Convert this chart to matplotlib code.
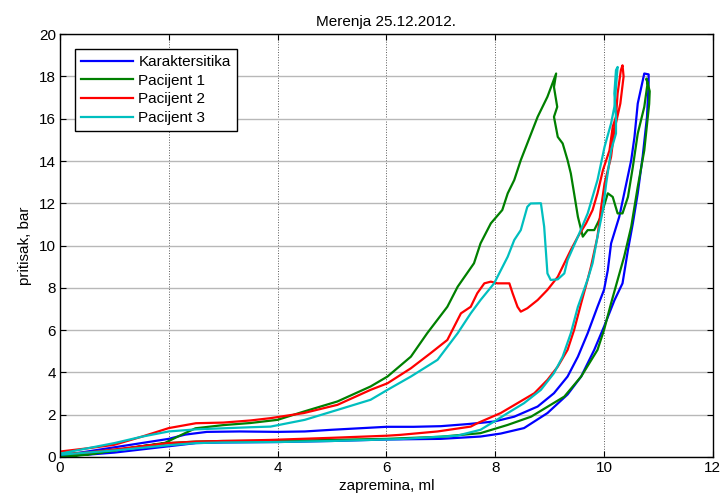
import matplotlib
matplotlib.use('Agg')
import matplotlib.pyplot as plt

plt.rcParams['font.family'] = ['Liberation Sans', 'DejaVu Sans']

# Karakteristika: punjenje pa praznjenje
kar_x = [0, 0.5, 1.0, 1.5, 2.0, 2.3, 2.7, 3.3, 4.0, 4.5, 5.0, 5.5, 6.0, 6.5, 7.0, 7.5, 7.98,
         8.35, 8.78, 9.08, 9.33, 9.52, 9.70, 9.88, 10.0, 10.07, 10.13, 10.28, 10.41, 10.50,
         10.56, 10.62, 10.74, 10.82,
         10.82, 10.79, 10.71, 10.62, 10.53, 10.44, 10.34, 10.19, 10.0, 9.82, 9.58, 9.33,
         8.96, 8.53, 8.1, 7.73, 7.0, 6.0, 5.0, 4.0, 3.0, 2.5, 2.0, 1.5, 1.0, 0.5, 0]
kar_y = [0.05, 0.25, 0.45, 0.65, 0.85, 1.05, 1.18, 1.2, 1.18, 1.2, 1.28, 1.35, 1.42, 1.42, 1.45,
         1.55, 1.67, 1.9, 2.38, 3.01, 3.8, 4.74, 5.85, 7.1, 7.9, 8.84, 10.1, 11.36, 12.94, 14.04,
         15.14, 16.72, 18.14, 18.1,
         17.67, 16.09, 14.2, 12.47, 11.05, 9.79, 8.21, 7.4, 6.16, 5.06, 3.8, 2.95,
         2.07, 1.36, 1.1, 0.96, 0.85, 0.82, 0.75, 0.7, 0.68, 0.65, 0.5, 0.35, 0.2, 0.1, 0.05]

# Pacijent 1
p1_x = [0, 0.5, 1.0, 1.5, 1.93, 2.2, 2.49, 3.0, 3.5, 4.0, 4.48, 5.1, 5.71, 6.02, 6.45, 6.75,
        7.12, 7.31, 7.61, 7.73, 7.92, 8.13, 8.23, 8.35, 8.47, 8.78, 8.96, 9.12, 9.08, 9.14,
        9.08, 9.15, 9.24, 9.33, 9.39, 9.45, 9.52, 9.61, 9.7, 9.82, 9.94, 10.07, 10.16, 10.25,
        10.34, 10.44, 10.53, 10.62, 10.74, 10.8, 10.78, 10.84,
        10.83, 10.74, 10.62, 10.5, 10.37, 10.25, 10.13, 10.0, 9.88, 9.58, 9.27, 8.66, 8.23,
        7.73, 7.0, 6.0, 5.0, 4.0, 3.0, 2.5, 2.0, 1.5, 1.0, 0.5, 0.2]
p1_y = [0.0, 0.1, 0.3, 0.5, 0.66, 1.0, 1.35, 1.5, 1.6, 1.75, 2.14, 2.62, 3.33, 3.8, 4.74, 5.85,
        7.1, 8.05, 9.16, 10.1, 11.05, 11.68, 12.47, 13.1, 14.04, 16.09, 17.04, 18.14, 17.5, 16.56,
        16.09, 15.14, 14.83, 14.04, 13.41, 12.47, 11.36, 10.42, 10.73, 10.73, 11.36, 12.47, 12.3,
        11.52, 11.52, 12.3, 13.72, 15.3, 16.56, 17.67, 17.9, 17.3,
        16.7, 14.5, 12.78, 10.89, 9.47, 8.37, 7.27, 6.0, 5.06, 3.8, 2.85, 1.9, 1.51,
        1.12, 0.95, 0.85, 0.8, 0.75, 0.75, 0.72, 0.65, 0.5, 0.3, 0.12, 0.05]

# Pacijent 2
p2_x = [0, 0.5, 1.0, 1.5, 2.0, 2.5, 3.0, 3.5, 3.87, 4.48, 5.1, 5.71, 6.02, 6.45, 6.81, 7.12,
        7.37, 7.55, 7.67, 7.8, 7.92, 8.04, 8.26, 8.32, 8.41, 8.47, 8.59, 8.78, 8.96, 9.15, 9.21,
        9.39, 9.52, 9.67, 9.79, 9.88, 9.98, 10.1, 10.16, 10.22, 10.25, 10.31, 10.34, 10.36,
        10.3, 10.19, 10.13, 10.01, 9.94, 9.88, 9.76, 9.7, 9.58, 9.45, 9.33, 9.15, 8.96, 8.72,
        8.41, 8.1, 7.67, 7.55, 6.94, 6.26, 6.02, 5.0, 3.87, 3.0, 2.5, 2.0, 1.5, 1.0, 0.5, 0.1]
p2_y = [0.25, 0.4, 0.57, 0.95, 1.36, 1.59, 1.62, 1.72, 1.83, 2.07, 2.46, 3.17, 3.48, 4.19, 4.9,
        5.53, 6.79, 7.1, 7.74, 8.21, 8.29, 8.21, 8.21, 7.74, 7.1, 6.87, 7.03, 7.42, 7.9, 8.52, 8.84,
        9.79, 10.42, 11.05, 11.68, 12.47, 13.57, 14.5, 15.62, 16.09, 17.2, 18.3, 18.53, 18.0,
        16.72, 15.46, 14.2, 12.94, 11.68, 10.42, 9.0, 8.4, 7.27, 6.0, 5.06, 4.27, 3.64, 3.01,
        2.54, 2.07, 1.59, 1.43, 1.2, 1.04, 1.0, 0.9, 0.8, 0.75, 0.72, 0.65, 0.5, 0.35, 0.2, 0.15]

# Pacijent 3
p3_x = [0, 0.5, 1.0, 1.5, 2.0, 2.5, 3.0, 3.5, 3.87, 4.5, 5.1, 5.71, 6.02, 6.45, 6.94, 7.31,
        7.55, 7.73, 7.98, 8.23, 8.35, 8.47, 8.59, 8.65, 8.84, 8.9, 8.96, 9.02, 9.15, 9.27, 9.33,
        9.52, 9.7, 9.88, 10.01, 10.13, 10.19, 10.22, 10.25,
        10.22, 10.19, 10.22, 10.22, 10.13, 10.04, 9.98, 9.88, 9.79, 9.7, 9.52, 9.39, 9.24, 9.08,
        8.84, 8.53, 8.23, 7.98, 7.73, 7.3, 6.26, 5.0, 4.0, 3.0, 2.5, 2.0, 1.0, 0]
p3_y = [0.15, 0.4, 0.65, 0.95, 1.2, 1.3, 1.35, 1.4, 1.43, 1.75, 2.22, 2.7, 3.17, 3.8, 4.59, 5.85,
        6.79, 7.42, 8.21, 9.47, 10.26, 10.73, 11.83, 11.99, 12.0, 10.89, 8.68, 8.37, 8.4, 8.68, 9.31,
        10.42, 11.52, 13.1, 14.67, 15.78, 16.56, 17.5, 18.45,
        18.3, 17.2, 16.09, 15.3, 14.5, 12.94, 11.68, 10.42, 9.16, 8.4, 7.1, 5.85, 4.74, 3.96,
        3.17, 2.54, 2.07, 1.67, 1.28, 1.0, 0.84, 0.75, 0.7, 0.68, 0.65, 0.55, 0.3, 0.1]

fig = plt.figure(figsize=(7.27, 4.96), dpi=100)
ax = fig.add_axes([0.0825, 0.079, 0.898, 0.852])

ax.plot(kar_x, kar_y, color=(0, 0, 1), lw=1.6, label='Karaktersitika')
ax.plot(p1_x, p1_y, color=(0, 0.5, 0), lw=1.6, label='Pacijent 1')
ax.plot(p2_x, p2_y, color=(1, 0, 0), lw=1.6, label='Pacijent 2')
ax.plot(p3_x, p3_y, color=(0, 0.75, 0.75), lw=1.6, label='Pacijent 3')

ax.set_xlim(0, 12)
ax.set_ylim(0, 20)
ax.set_xticks(range(0, 13, 2))
ax.set_yticks(range(0, 21, 2))

# MATLAB-ovski izgled: mreza i crtice sa unutrasnje strane
ax.yaxis.grid(True, color='0.72', lw=1.0, ls='-')
ax.xaxis.grid(True, color='0.35', lw=0.7, ls=':')
ax.set_axisbelow(True)
ax.tick_params(direction='in', top=True, right=True, length=4, labelsize=11, pad=3)
for s in ax.spines.values():
    s.set_linewidth(1.0)

ax.set_title('Merenja 25.12.2012.', fontsize=11, pad=6)
ax.set_xlabel('zapremina, ml', fontsize=11, labelpad=3)
ax.set_ylabel('pritisak, bar', fontsize=11, labelpad=5)

leg = ax.legend(loc='upper left', bbox_to_anchor=(0.023, 0.965), fontsize=11,
                fancybox=False, framealpha=1, edgecolor='black', handlelength=3.4,
                handletextpad=0.35, labelspacing=0.3, borderpad=0.4, borderaxespad=0)
leg.get_frame().set_linewidth(1.0)

fig.savefig('out.png', dpi=100)
